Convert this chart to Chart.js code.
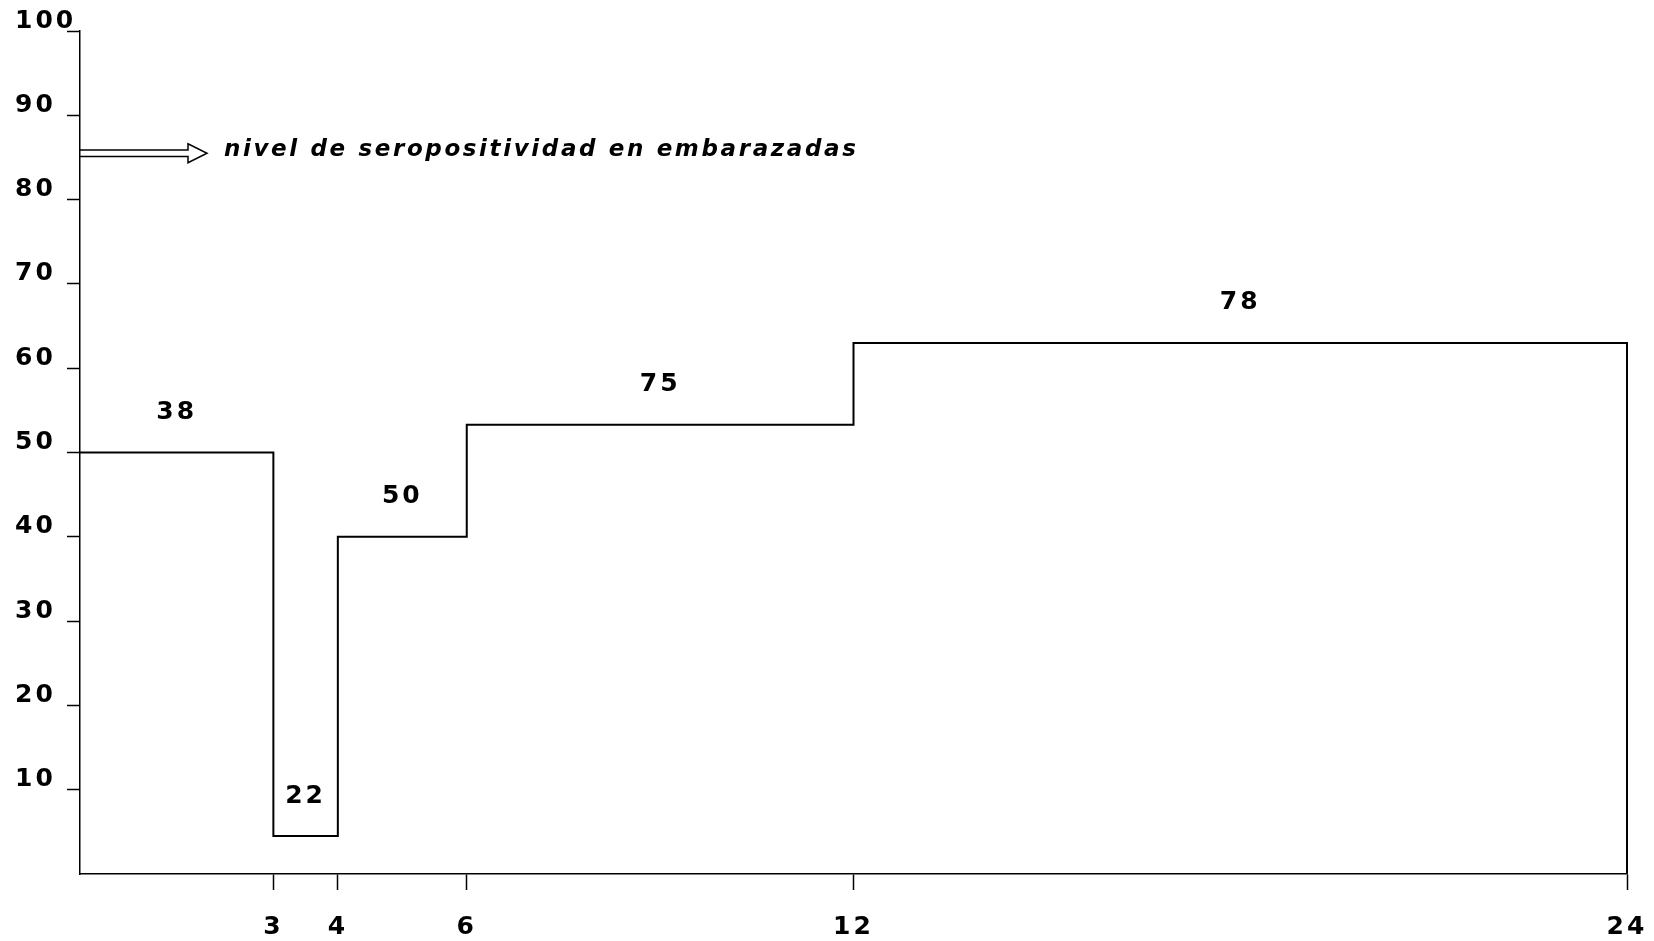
<!DOCTYPE html>
<html>
<head>
<meta charset="utf-8">
<script src="https://cdn.jsdelivr.net/npm/chart.js@4/dist/chart.umd.min.js"></script>
<style>
  body { margin: 0; background: #fff; }
</style>
</head>
<body>
<canvas id="stepChart" width="1654" height="941"></canvas>
<script>
// months where the level changes (x axis)
const monthBreaks = [0, 3, 4, 6, 12, 24];
// seropositivity level (%) in each interval
const levels = [50, 4.5, 40, 53.3, 63];
// numbers written above each interval
const counts = ['38', '22', '50', '75', '78'];
// tick labels
const xTicks = [3, 4, 6, 12, 24];
const yTicks = [10, 20, 30, 40, 50, 60, 70, 80, 90, 100];
// reference arrow
const noteText = 'nivel de seropositividad en embarazadas';
const noteLevel = 85.5;
const noteWidth = 632;

//build the stepped points from the arrays
const points = levels.map((v, i) => ({ x: monthBreaks[i], y: v }));
const lastX = monthBreaks[monthBreaks.length - 1];
points.push({ x: lastX, y: levels[levels.length - 1] });
points.push({ x: lastX, y: 0 });

const fontName = '"DejaVu Sans"';
const labelFont = { family: 'DejaVu Sans', size: 25, weight: 'bold' };
const digitSpacing = '3px';

const extrasPlugin = {
  id: 'extras',
  beforeDraw(chart) {
    chart.ctx.letterSpacing = digitSpacing;
  },
  afterDraw(chart) {
    const ctx = chart.ctx;
    const xs = chart.scales.x;
    const ys = chart.scales.y;

    //numbers over each step
    ctx.save();
    ctx.fillStyle = '#000';
    ctx.font = 'bold 25px ' + fontName;
    ctx.letterSpacing = digitSpacing;
    ctx.textAlign = 'center';
    ctx.textBaseline = 'middle';
    counts.forEach((t, i) => {
      const mid = (monthBreaks[i] + monthBreaks[i + 1]) / 2;
      ctx.fillText(t, xs.getPixelForValue(mid), ys.getPixelForValue(levels[i]) - 40);
    });
    ctx.restore();

    //open arrow + note
    const x0 = xs.getPixelForValue(0);
    const yA = ys.getPixelForValue(noteLevel);
    ctx.save();
    ctx.letterSpacing = '0px';
    ctx.strokeStyle = '#000';
    ctx.lineWidth = 1.5;
    ctx.beginPath();
    ctx.moveTo(x0, yA - 3.3);
    ctx.lineTo(x0 + 108, yA - 3.3);
    ctx.lineTo(x0 + 108, yA - 9.5);
    ctx.lineTo(x0 + 127, yA);
    ctx.lineTo(x0 + 108, yA + 9.5);
    ctx.lineTo(x0 + 108, yA + 3.3);
    ctx.lineTo(x0, yA + 3.3);
    ctx.stroke();

    ctx.fillStyle = '#000';
    ctx.font = 'italic bold 23px ' + fontName;
    const plain = ctx.measureText(noteText).width;
    const ls = (noteWidth - plain) / (noteText.length - 1);
    ctx.letterSpacing = ls.toFixed(2) + 'px';
    ctx.textAlign = 'left';
    ctx.textBaseline = 'alphabetic';
    ctx.fillText(noteText, x0 + 144, yA + 3);
    ctx.restore();

    ctx.letterSpacing = '0px';
  }
};

function noPad(s) {
  s.paddingLeft = 0;
  s.paddingRight = 0;
  s.paddingTop = 0;
  s.paddingBottom = 0;
}

const ctx = document.getElementById('stepChart').getContext('2d');
window.stepChart = new Chart(ctx, {
  type: 'line',
  data: {
    datasets: [
      {
        data: points,
        borderColor: '#000',
        borderWidth: 2,
        pointRadius: 0,
        stepped: true,
        fill: false,
        clip: false,
      },
    ]
  },
  options: {
    responsive: false,
    animation: false,
    devicePixelRatio: 1,
    layout: { padding: { left: 15, right: 27, top: 31, bottom: 0 } },
    plugins: {
      legend: { display: false },
      tooltip: { enabled: false },
    },
    scales: {
      x: {
        type: 'linear',
        min: 0,
        max: 24,
        afterBuildTicks: s => { s.ticks = xTicks.map(v => ({ value: v })); },
        afterFit: s => { s.height = 67; noPad(s); },
        grid: { drawOnChartArea: false, tickLength: 16, color: '#000', tickWidth: 1.5 },
        border: { color: '#000', width: 1.5 },
        ticks: { color: '#000', font: labelFont, padding: 22, maxRotation: 0, autoSkip: false },
      },
      y: {
        min: 0,
        max: 100,
        afterBuildTicks: s => { s.ticks = yTicks.map(v => ({ value: v })); },
        afterFit: s => { s.width = 65; noPad(s); },
        grid: { drawOnChartArea: false, tickLength: 13, color: '#000', tickWidth: 1.5 },
        border: { color: '#000', width: 1.5 },
        ticks: { color: '#000', font: labelFont, crossAlign: 'far', labelOffset: -10, padding: 0, autoSkip: false },
      },
    }
  },
  plugins: [extrasPlugin]
});
</script>
</body>
</html>
